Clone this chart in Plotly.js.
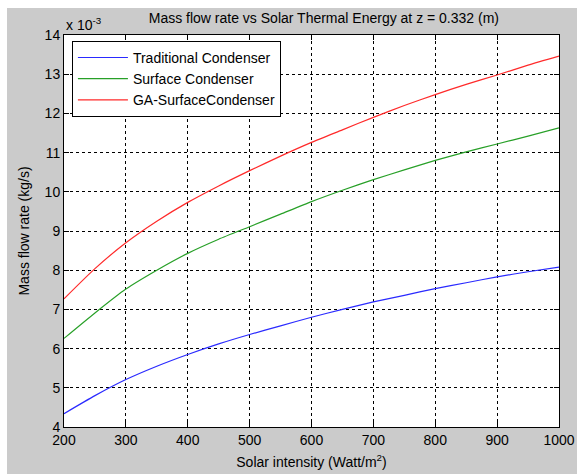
<!DOCTYPE html>
<html>
<head>
<meta charset="utf-8">
<script src="https://cdn.plot.ly/plotly-3.0.1.min.js"></script>
<style>
  html, body { margin: 0; padding: 0; background: #ffffff; }
  #chart { position: absolute; left: 7px; top: 8px; width: 570px; height: 466px; }
</style>
</head>
<body>
<div id="chart"></div>
<script>
// Solar intensity (Watt/m^2)
const solarIntensity = [200, 250, 300, 350, 400, 450, 500, 550, 600, 650, 700, 750, 800, 850, 900, 950, 1000];
// Mass flow rate (kg/s)
const traditionalCondenser = [0.00434, 0.00480, 0.00521, 0.00555, 0.00585, 0.00612, 0.00636, 0.00658, 0.00680, 0.00700, 0.00719, 0.00736, 0.00753, 0.00768, 0.00783, 0.00796, 0.00808];
const surfaceCondenser     = [0.00626, 0.00691, 0.00752, 0.00800, 0.00843, 0.00879, 0.00911, 0.00943, 0.00975, 0.01004, 0.01031, 0.01056, 0.01080, 0.01102, 0.01122, 0.01142, 0.01163];
const gaSurfaceCondenser   = [0.00727, 0.00804, 0.00870, 0.00925, 0.00973, 0.01015, 0.01054, 0.01091, 0.01126, 0.01158, 0.01190, 0.01220, 0.01248, 0.01274, 0.01298, 0.01323, 0.01346];

const seriesNames = ["Traditional Condenser", "Surface Condenser", "GA-SurfaceCondenser"];
const xTickVals = [200, 300, 400, 500, 600, 700, 800, 900, 1000];
const yTickVals = [0.004, 0.005, 0.006, 0.007, 0.008, 0.009, 0.010, 0.011, 0.012, 0.013, 0.014];
const yTickText = ["4", "5", "6", "7", "8", "9", "10", "11", "12", "13", "14"];

const FONT = "Liberation Sans, Arial, Helvetica, sans-serif";

const traces = [
  { x: solarIntensity, y: traditionalCondenser, name: seriesNames[0], color: "#2a2aff" },
  { x: solarIntensity, y: surfaceCondenser, name: seriesNames[1], color: "#28a028" },
  { x: solarIntensity, y: gaSurfaceCondenser, name: seriesNames[2], color: "#ff2a2a" }
].map(s => ({
  type: "scatter", mode: "lines", x: s.x, y: s.y, name: s.name,
  line: { color: s.color, width: 1.2, shape: "spline", smoothing: 0.6 }
}));

const axisCommon = {
  showline: true, linecolor: "#000", linewidth: 1, mirror: "ticks",
  ticks: "inside", ticklen: 5, tickcolor: "#000", tickwidth: 1,
  showgrid: true, gridcolor: "#000", gridwidth: 1, griddash: "3px,3px",
  zeroline: false, tickfont: { family: FONT, size: 14, color: "#000" }
};

const layout = {
  width: 570, height: 466,
  paper_bgcolor: "#cbcbcb", plot_bgcolor: "#ffffff",
  margin: { l: 57, r: 18, t: 27, b: 47 },
  font: { family: FONT, size: 13, color: "#000" },
  showlegend: true,
  title: {
    text: "Mass flow rate vs Solar Thermal Energy at z = 0.332 (m)",
    font: { family: FONT, size: 14, color: "#000" },
    x: 0.525, xanchor: "center", xref: "paper",
    y: 1 - 10 / 466, yanchor: "middle", yref: "container"
  },
  xaxis: Object.assign({}, axisCommon, {
    range: [200, 1000], tickvals: xTickVals, ticktext: xTickVals.map(String),
    title: { text: "Solar intensity (Watt/m<sup>2</sup>)", font: { family: FONT, size: 14, color: "#000" }, standoff: 10 }
  }),
  yaxis: Object.assign({}, axisCommon, {
    range: [0.004, 0.014], tickvals: yTickVals, ticktext: yTickText,
    title: { text: "Mass flow rate (kg/s)", font: { family: FONT, size: 14, color: "#000" }, standoff: 11 }
  }),
  legend: {
    x: 0.016, xanchor: "left", y: 0.985, yanchor: "top",
    bgcolor: "#ffffff", bordercolor: "#000", borderwidth: 1,
    font: { family: FONT, size: 14, color: "#000" },
    itemwidth: 50
  },
  annotations: [
    { text: "x 10<sup>-3</sup>", xref: "paper", yref: "paper", x: 0, xanchor: "left",
      y: 1, yanchor: "bottom", yshift: 0, showarrow: false,
      font: { family: FONT, size: 14, color: "#000" } }
  ]
};

Plotly.newPlot("chart", traces, layout, { displayModeBar: false, staticPlot: true });
</script>
</body>
</html>
